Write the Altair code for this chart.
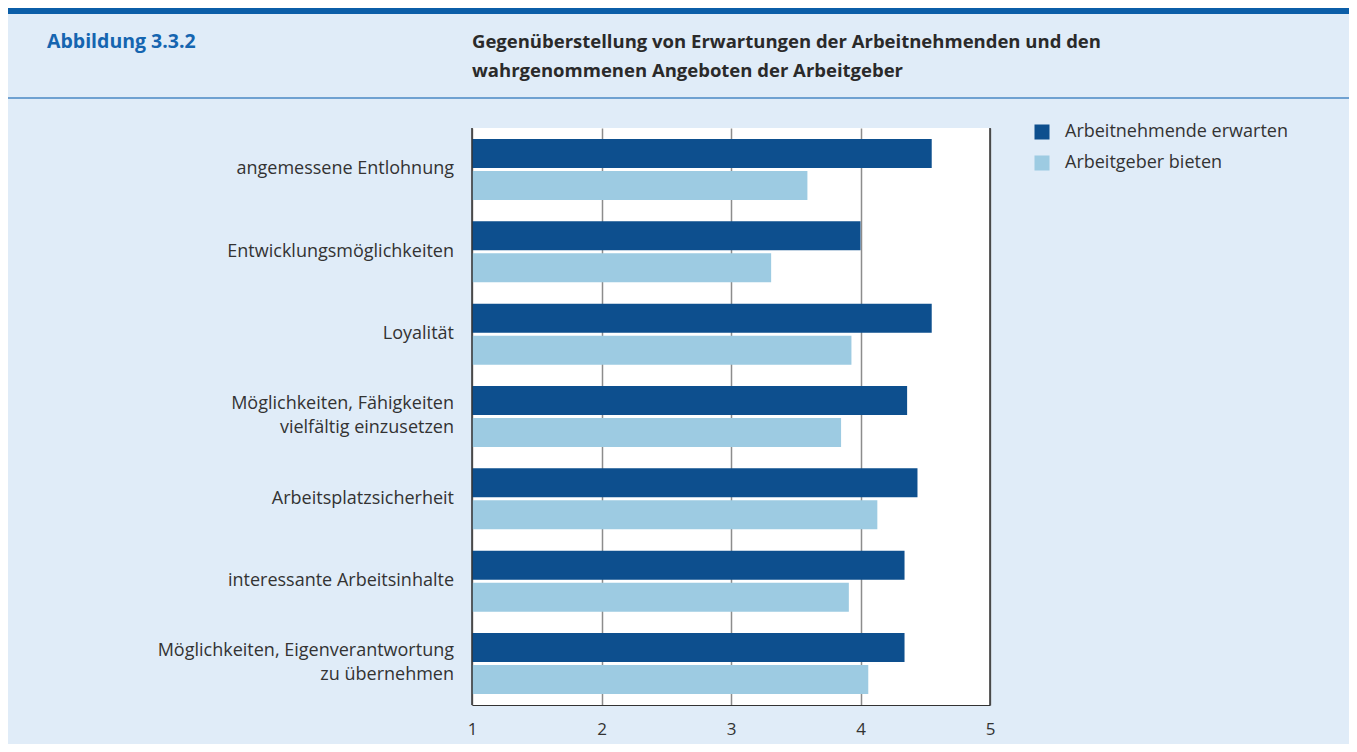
import altair as alt
import pandas as pd

categories = [
    "angemessene Entlohnung",
    "Entwicklungsmöglichkeiten",
    "Loyalität",
    "Möglichkeiten, Fähigkeiten\nvielfältig einzusetzen",
    "Arbeitsplatzsicherheit",
    "interessante Arbeitsinhalte",
    "Möglichkeiten, Eigenverantwortung\nzu übernehmen",
]
series = ["Arbeitnehmende erwarten", "Arbeitgeber bieten"]
expect = [4.55, 4.0, 4.55, 4.36, 4.44, 4.34, 4.34]
offer = [3.59, 3.31, 3.93, 3.85, 4.13, 3.91, 4.06]
x_ticks = [1, 2, 3, 4, 5]
fig_label = "Abbildung 3.3.2"
title_lines = [
    "Gegenüberstellung von Erwartungen der Arbeitnehmenden und den",
    "wahrgenommenen Angeboten der Arbeitgeber",
]

DARK = "#0d4f8e"
LIGHT = "#9dcbe2"
BG = "#e0ecf8"
FONT = "Open Sans"

W, H = 518, 577
PL, PT = 464, 120
TOTW, TOTH = 1341, 736

rows = []
for c, e, o in zip(categories, expect, offer):
    rows.append({"cat": c, "series": series[0], "value": e})
    rows.append({"cat": c, "series": series[1], "value": o})
df = pd.DataFrame(rows)

yscale = alt.Scale(domain=categories, paddingInner=0.26, paddingOuter=0.134)

bars = alt.Chart(df).mark_bar(cornerRadius=0).encode(
    y=alt.Y("cat:N", scale=yscale, axis=None, sort=categories),
    yOffset=alt.YOffset("series:N", sort=series,
                        scale=alt.Scale(paddingInner=0.094, paddingOuter=0)),
    x=alt.X("value:Q", scale=alt.Scale(domain=[1, 5], zero=False, nice=False),
            axis=alt.Axis(values=x_ticks, title=None, grid=True, gridColor="#8c8c8c",
                          gridWidth=1.5, domainColor="#333333", domainWidth=1.2,
                          ticks=False, labelFontSize=17, labelFont=FONT,
                          labelColor="#333333", labelPadding=16, labelFlush=False,
                          format="d")),
    x2=alt.datum(1),
    color=alt.Color("series:N", sort=series,
                    scale=alt.Scale(domain=series, range=[DARK, LIGHT]),
                    legend=alt.Legend(title=None, orient="none", legendX=561, legendY=-5,
                                      symbolType="square", symbolSize=225,
                                      symbolStrokeWidth=0, labelFontSize=18,
                                      labelFont=FONT, labelColor="#333333",
                                      labelLimit=0, rowPadding=13, labelOffset=14)),
)

borders = alt.Chart(pd.DataFrame({"v": [1, 5]})).mark_rule(
    color="#333333", strokeWidth=1.5).encode(x=alt.X("v:Q"))

catdf = pd.DataFrame({"cat": categories})
labels1 = alt.Chart(catdf).transform_filter("indexof(datum.cat, '\\n') < 0").mark_text(
    align="right", baseline="middle", dx=-18, fontSize=18, font=FONT,
    color="#333333").encode(
    y=alt.Y("cat:N", scale=yscale, sort=categories), x=alt.value(0), text="cat:N")
labels2 = alt.Chart(catdf).transform_filter("indexof(datum.cat, '\\n') >= 0").mark_text(
    align="right", baseline="middle", dx=-18, dy=-13, fontSize=18, font=FONT,
    color="#333333", lineBreak="\n", lineHeight=24).encode(
    y=alt.Y("cat:N", scale=yscale, sort=categories), x=alt.value(0), text="cat:N")

topbar = alt.Chart(pd.DataFrame({"a": [0]})).mark_rect(color="#0b5ea8").encode(
    x=alt.value(-PL), x2=alt.value(TOTW - PL), y=alt.value(-PT), y2=alt.value(-PT + 6))

sep = alt.Chart(pd.DataFrame({"a": [0]})).mark_rule(color="#4a88c4", strokeWidth=1.6).encode(
    x=alt.value(-PL), x2=alt.value(TOTW - PL), y=alt.value(-30))

figlab = alt.Chart(pd.DataFrame({"t": [fig_label]})).mark_text(
    align="left", baseline="alphabetic", fontSize=19.5, fontWeight="bold", font=FONT,
    color="#1565b0").encode(x=alt.value(-425), y=alt.value(-80), text="t:N")

tl = alt.Chart(pd.DataFrame({"t": title_lines, "yy": [-80, -51]})).mark_text(
    align="left", baseline="alphabetic", fontSize=18.5, fontWeight="bold", font=FONT,
    color="#2a2a2a").encode(x=alt.value(0), y=alt.Y("yy:Q", scale=None), text="t:N")

chart = alt.layer(topbar, sep, figlab, tl, bars, borders, labels1, labels2).properties(
    width=W, height=H, background=BG,
    autosize=alt.AutoSizeParams(type="none"),
    padding={"left": PL, "top": PT, "right": TOTW - PL - W, "bottom": TOTH - PT - H},
).configure_view(stroke=None, fill="white").resolve_scale(y="shared")

chart.save("out.html", embed_options={"renderer": "svg", "actions": False})
